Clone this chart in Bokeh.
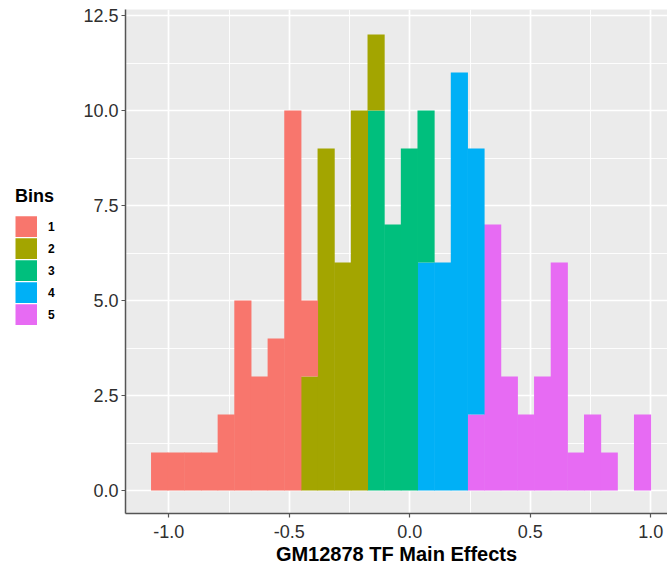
from bokeh.plotting import figure
from bokeh.layouts import row
from bokeh.models import ColumnDataSource, Legend, LegendItem, FixedTicker, Range1d
from bokeh.embed import file_html
from bokeh.resources import INLINE

# ---- data (30 bins) ----
bin_start = -1.073
bin_width = 0.0691
n_bins = 30
bin_groups = ["1", "2", "3", "4", "5"]
counts_1 = [1, 1, 1, 1, 2, 5, 3, 4, 10, 2, 0, 0, 0, 0, 0, 0, 0, 0, 0, 0, 0, 0, 0, 0, 0, 0, 0, 0, 0, 0]
counts_2 = [0, 0, 0, 0, 0, 0, 0, 0, 0, 3, 9, 6, 10, 2, 0, 0, 0, 0, 0, 0, 0, 0, 0, 0, 0, 0, 0, 0, 0, 0]
counts_3 = [0, 0, 0, 0, 0, 0, 0, 0, 0, 0, 0, 0, 0, 10, 7, 9, 4, 0, 0, 0, 0, 0, 0, 0, 0, 0, 0, 0, 0, 0]
counts_4 = [0, 0, 0, 0, 0, 0, 0, 0, 0, 0, 0, 0, 0, 0, 0, 0, 6, 6, 11, 7, 0, 0, 0, 0, 0, 0, 0, 0, 0, 0]
counts_5 = [0, 0, 0, 0, 0, 0, 0, 0, 0, 0, 0, 0, 0, 0, 0, 0, 0, 0, 0, 2, 7, 3, 2, 3, 6, 1, 2, 1, 0, 2]
group_colors = ["#F8766D", "#A3A500", "#00BF7D", "#00B0F6", "#E76BF3"]

x_ticks = [-1.0, -0.5, 0.0, 0.5, 1.0]
x_tick_labels = ["-1.0", "-0.5", "0.0", "0.5", "1.0"]
x_minor = [-0.75, -0.25, 0.25, 0.75]
y_ticks = [0.0, 2.5, 5.0, 7.5, 10.0, 12.5]
y_tick_labels = ["0.0", "2.5", "5.0", "7.5", "10.0", "12.5"]
y_minor = [1.25, 3.75, 6.25, 8.75, 11.25]
x_title = "GM12878 TF Main Effects"
legend_title = "Bins"

bin_centers = [bin_start + bin_width * (i + 0.5) for i in range(n_bins)]

source = ColumnDataSource(dict(
    x=bin_centers, g1=counts_1, g2=counts_2, g3=counts_3, g4=counts_4, g5=counts_5,
))

FONT = "Liberation Sans"
H = 569

# ---------------- main histogram ----------------
p = figure(width=597, height=H, output_backend="svg", toolbar_location=None,
           x_range=Range1d(-1.18, 1.069), y_range=Range1d(-0.605, 12.66),
           min_border_left=55, min_border_right=0, min_border_top=9, min_border_bottom=56)
p.background_fill_color = "#EBEBEB"
p.border_fill_color = "white"
p.outline_line_color = None

# stacked bars: ggplot stacks first level on top
stack_order = ["g5", "g4", "g3", "g2", "g1"]
stack_colors = [group_colors[4], group_colors[3], group_colors[2], group_colors[1], group_colors[0]]
p.vbar_stack(stack_order, x="x", width=bin_width * 1.03, color=stack_colors,
             line_color=None, source=source)

p.xaxis.ticker = FixedTicker(ticks=x_ticks, minor_ticks=x_minor)
p.yaxis.ticker = FixedTicker(ticks=y_ticks, minor_ticks=y_minor)
p.xaxis.major_label_overrides = dict(zip(x_ticks, x_tick_labels))
p.yaxis.major_label_overrides = dict(zip(y_ticks, y_tick_labels))
for g in (p.xgrid, p.ygrid):
    g.grid_line_color = "white"
    g.grid_line_width = 1.7
    g.minor_grid_line_color = "white"
    g.minor_grid_line_width = 0.9
    g.level = "underlay"

for ax in (p.xaxis, p.yaxis):
    ax.axis_line_color = "#555555"
    ax.axis_line_width = 1.5
    ax.major_tick_line_color = "#555555"
    ax.major_tick_line_width = 1.2
    ax.major_tick_in = 0
    ax.major_tick_out = 4
    ax.minor_tick_line_color = None
    ax.major_label_text_font = FONT
    ax.major_label_text_font_size = "18px"
    ax.major_label_text_color = "#2f2f2f"
    ax.major_label_standoff = 3
p.xaxis.major_label_standoff = 7

p.xaxis.axis_label = x_title
p.xaxis.axis_label_text_font = FONT
p.xaxis.axis_label_text_font_size = "20px"
p.xaxis.axis_label_text_font_style = "bold"
p.xaxis.axis_label_text_color = "black"
p.xaxis.axis_label_standoff = 2

# ---------------- legend panel ----------------
lg = figure(width=70, height=H, output_backend="svg", toolbar_location=None,
            x_axis_location=None, y_axis_location=None,
            x_range=Range1d(0, 1), y_range=Range1d(0, 1),
            min_border=0)
lg.outline_line_color = None
lg.xgrid.visible = False
lg.ygrid.visible = False
lg.background_fill_color = "white"
lg.border_fill_color = "white"

nan = float("nan")
items = []
for lab, col in zip(bin_groups, group_colors):
    r = lg.line(x=[nan], y=[nan], line_color=col, line_width=21.5)
    items.append(LegendItem(label=lab, renderers=[r]))

legend = Legend(items=items, location=(15, 188), title=legend_title,
                title_text_font=FONT, title_text_font_size="18px", title_text_font_style="bold",
                title_text_color="black", title_standoff=9,
                label_text_font=FONT, label_text_font_size="12px", label_text_font_style="bold",
                label_text_color="black", label_standoff=11,
                glyph_width=22, glyph_height=21, spacing=1, padding=0, margin=0,
                border_line_color=None, background_fill_alpha=0)
lg.add_layout(legend, "center")

layout = row(lg, p, spacing=0)
open("out.html", "w").write(file_html(layout, INLINE))
